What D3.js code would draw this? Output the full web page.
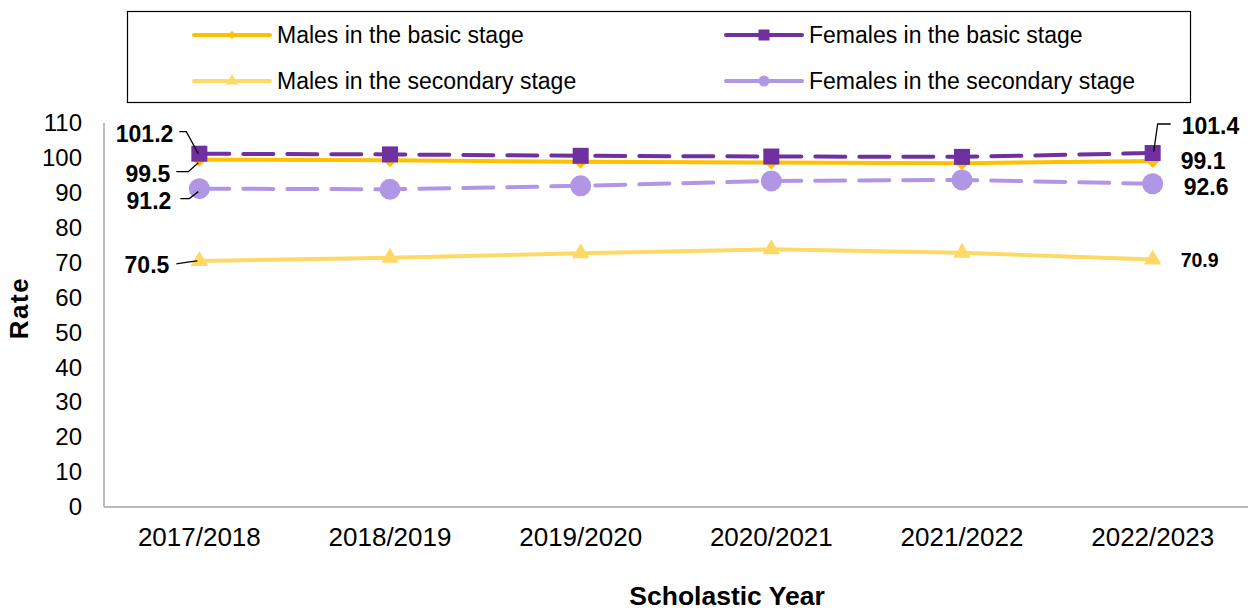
<!DOCTYPE html>
<html><head><meta charset="utf-8">
<script src="https://cdn.jsdelivr.net/npm/d3@7"></script>
<style>body{margin:0;background:#fff}svg{display:block;font-family:"Liberation Sans",Arial,sans-serif}</style>
</head><body><svg id="c" width="1252" height="610"></svg>
<script>
const years = ["2017/2018","2018/2019","2019/2020","2020/2021","2021/2022","2022/2023"];
const malesBasic = [99.5, 99.3, 98.9, 98.7, 98.5, 99.1];
const femalesBasic = [101.2, 101.0, 100.6, 100.4, 100.3, 101.4];
const malesSecondary = [70.5, 71.4, 72.7, 73.8, 72.8, 70.9];
const femalesSecondary = [91.2, 91.0, 92.0, 93.4, 93.7, 92.6];
const yTicks = [0,10,20,30,40,50,60,70,80,90,100,110];

const series = [
  {name:"Males in the secondary stage", values:malesSecondary, color:"#FFD966", dash:null, marker:"triangle"},
  {name:"Females in the secondary stage", values:femalesSecondary, color:"#B196E6", dash:"30 14", marker:"circle"},
  {name:"Males in the basic stage", values:malesBasic, color:"#FFC000", dash:null, marker:"diamond"},
  {name:"Females in the basic stage", values:femalesBasic, color:"#7030A0", dash:"30 14", marker:"square"}
];

const svg = d3.select("#c");
const FF = "Liberation Sans, Arial, sans-serif";
const L=104, R=1248, T=123, B=507;
const x = d3.scaleBand().domain(years).range([L,R]);
const y = d3.scaleLinear().domain([0,110]).range([B,T]);
const cx = d => x(d)+x.bandwidth()/2;

// axes
svg.append("line").attr("x1",L).attr("x2",L).attr("y1",T).attr("y2",B).attr("stroke","#A6A6A6").attr("stroke-width",1.5);
svg.append("line").attr("x1",L).attr("x2",R).attr("y1",B).attr("y2",B).attr("stroke","#A6A6A6").attr("stroke-width",1.5);
const ya = svg.append("g").attr("transform",`translate(${L},0)`).call(d3.axisLeft(y).tickValues(yTicks).tickSize(0).tickPadding(22));
ya.select(".domain").remove();
ya.selectAll("text").attr("font-size",24).attr("fill","#000").attr("font-family",FF);
const xa = svg.append("g").attr("transform",`translate(0,${B})`).call(d3.axisBottom(x).tickSize(0).tickPadding(21));
xa.select(".domain").remove();
xa.selectAll("text").attr("font-size",26).attr("fill","#000").attr("font-family",FF);

svg.append("text").attr("x",727).attr("y",605).attr("text-anchor","middle").attr("font-size",26.5).attr("font-weight","bold").text("Scholastic Year");
svg.append("text").attr("transform","translate(28,308) rotate(-90)").attr("text-anchor","middle").attr("font-size",26).attr("font-weight","bold").attr("letter-spacing",1.5).text("Rate");

function marker(g, type, color, px, py, s){
  if(type==="square") g.append("rect").attr("x",px-s/2).attr("y",py-s/2).attr("width",s).attr("height",s).attr("fill",color);
  else if(type==="circle") g.append("circle").attr("cx",px).attr("cy",py).attr("r",s/2).attr("fill",color);
  else if(type==="triangle") g.append("path").attr("d",d3.symbol(d3.symbolTriangle, s*s*0.45)()).attr("transform",`translate(${px},${py})`).attr("fill",color);
  else if(type==="diamond") g.append("path").attr("d",`M0,${-s/2}L${s/2},0L0,${s/2}L${-s/2},0Z`).attr("transform",`translate(${px},${py})`).attr("fill",color);
}
const msize = {square:16, circle:21, triangle:17, diamond:14};

const line = d3.line().x((d,i)=>cx(years[i])).y(d=>y(d));
series.forEach(s=>{
  const g = svg.append("g");
  g.append("path").attr("d",line(s.values)).attr("fill","none").attr("stroke",s.color).attr("stroke-width",4)
    .attr("stroke-dasharray",s.dash).attr("stroke-linecap","round");
  s.values.forEach((v,i)=>marker(g,s.marker,s.color,cx(years[i]),y(v),msize[s.marker]));
});

// data labels
const lab = svg.append("g").attr("font-weight","bold").attr("font-size",23).attr("fill","#000");
const x0 = cx(years[0]), x5 = cx(years[5]);
function leader(pts){ svg.append("polyline").attr("points",pts.map(p=>p.join(",")).join(" ")).attr("fill","none").attr("stroke","#000").attr("stroke-width",1.3); }
// left
lab.append("text").attr("x",x0-26).attr("y",y(femalesBasic[0])-12).attr("text-anchor","end").text(femalesBasic[0].toFixed(1));
leader([[x0-20,y(femalesBasic[0])-22],[x0-13,y(femalesBasic[0])-22],[x0-1,y(femalesBasic[0])]]);
lab.append("text").attr("x",x0-29).attr("y",y(malesBasic[0])+22).attr("text-anchor","end").text(malesBasic[0].toFixed(1));
leader([[x0-23,y(malesBasic[0])+12],[x0-11,y(malesBasic[0])+12],[x0-1,y(malesBasic[0])+3]]);
lab.append("text").attr("x",x0-28).attr("y",y(femalesSecondary[0])+20).attr("text-anchor","end").text(femalesSecondary[0].toFixed(1));
leader([[x0-19,y(femalesSecondary[0])+10],[x0-10,y(femalesSecondary[0])+10],[x0-1,y(femalesSecondary[0])+3]]);
lab.append("text").attr("x",x0-30).attr("y",y(malesSecondary[0])+12).attr("text-anchor","end").text(malesSecondary[0].toFixed(1));
leader([[x0-23,y(malesSecondary[0])+3],[x0-10,y(malesSecondary[0])+1],[x0-2,y(malesSecondary[0])]]);
// right
lab.append("text").attr("x",x5+29).attr("y",y(femalesBasic[5])-19).text(femalesBasic[5].toFixed(1));
leader([[x5+18,y(femalesBasic[5])-29],[x5+5,y(femalesBasic[5])-29],[x5+1,y(femalesBasic[5])-1]]);
lab.append("text").attr("x",x5+28).attr("y",y(malesBasic[5])+8).text(malesBasic[5].toFixed(1));
lab.append("text").attr("x",x5+31).attr("y",y(femalesSecondary[5])+11).text(femalesSecondary[5].toFixed(1));
lab.append("text").attr("x",x5+28).attr("y",y(malesSecondary[5])+8).attr("font-size",19.5).text(malesSecondary[5].toFixed(1));

// legend
svg.append("rect").attr("x",127.5).attr("y",11.5).attr("width",1063).attr("height",91).attr("fill","#fff").attr("stroke","#000").attr("stroke-width",1.2);
const legItems = [
  {s:series[2], lx:194, ly:35},
  {s:series[3], lx:726, ly:35},
  {s:series[0], lx:194, ly:81},
  {s:series[1], lx:726, ly:81}
];
const lmsize = {square:11, circle:11, triangle:12, diamond:8};
legItems.forEach(it=>{
  const g = svg.append("g");
  g.append("line").attr("x1",it.lx).attr("x2",it.lx+76).attr("y1",it.ly).attr("y2",it.ly).attr("stroke",it.s.color).attr("stroke-width",4).attr("stroke-linecap","round");
  marker(g,it.s.marker,it.s.color,it.lx+38,it.ly,lmsize[it.s.marker]);
  g.append("text").attr("x",it.lx+83).attr("y",it.ly+8).attr("font-size",23).attr("fill","#000").text(it.s.name);
});
</script></body></html>
